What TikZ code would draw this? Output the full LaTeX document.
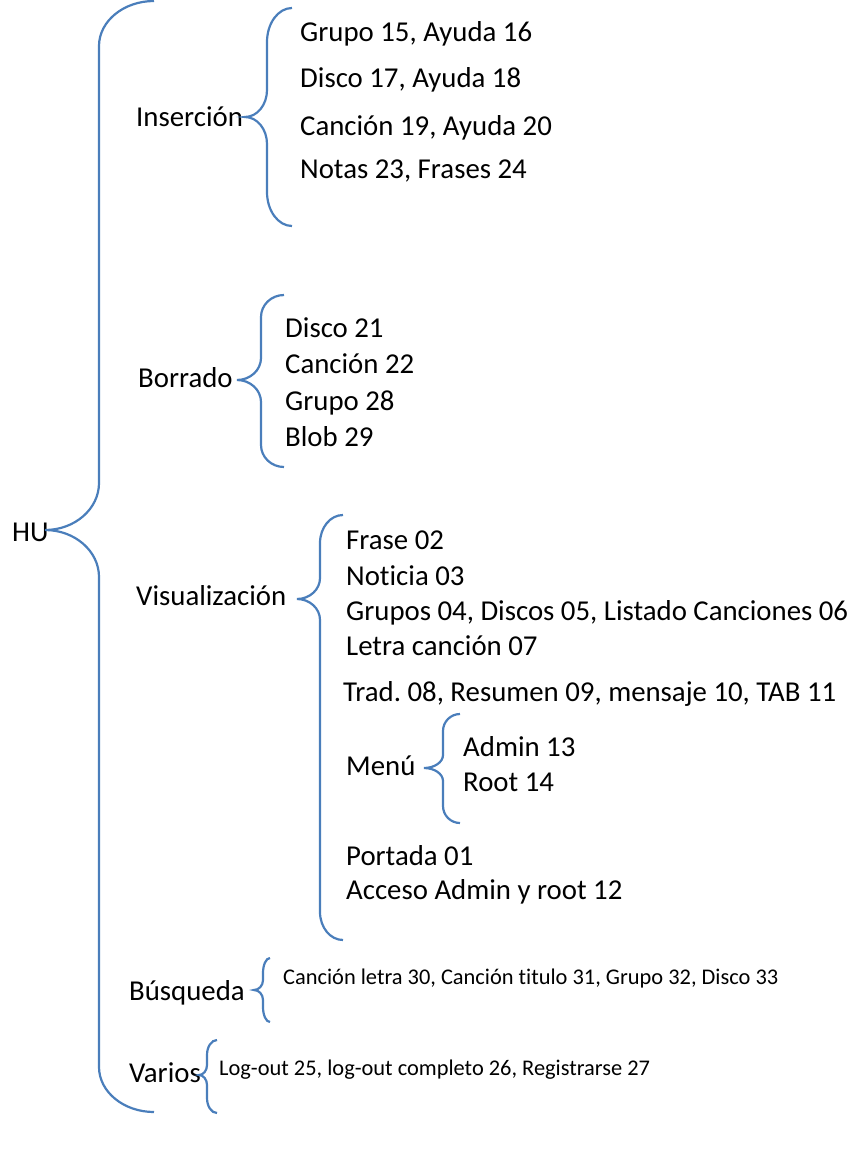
\documentclass[tikz,border=0pt]{standalone}
\usepackage{fontspec}
\setmainfont[Ligatures=NoCommon]{Carlito}
\definecolor{bracecol}{HTML}{4A7EBB}
\frenchspacing
\tikzset{
  brace/.style={draw=bracecol, line width=2.2pt},
  lbl/.style={anchor=base west, inner sep=0pt, font=\fontsize{28.8}{34}\selectfont},
  small/.style={anchor=base west, inner sep=0pt, font=\fontsize{22.4}{27}\selectfont},
}
% #1 tipx, #2 tipy, #3 line x, #4 end x, #5 top y, #6 bottom y, #7 end radius, #8 middle radius
\newcommand\mybrc[8]{%
  \draw[brace] (#4,#5) .. controls ({#3+0.448*(#4-#3)},#5) and (#3,{#5+0.448*#7}) .. (#3,{#5+#7})
    -- (#3,{#2-#8}) .. controls (#3,{#2-0.448*#8}) and ({#1+0.552*(#3-#1)},#2) .. (#1,#2)
    .. controls ({#1+0.552*(#3-#1)},#2) and (#3,{#2+0.448*#8}) .. (#3,{#2+#8})
    -- (#3,{#6-#7}) .. controls (#3,{#6-0.448*#7}) and ({#3+0.448*(#4-#3)},#6) .. (#4,#6);}
\begin{document}
\begin{tikzpicture}[x=1pt,y=-1pt]
\useasboundingbox (0,0) rectangle (865,1156);
% root
\node[lbl] (hu) at (12,541) {HU};
\mybrc{45}{530}{99}{154}{1}{1112}{45}{47}
% Insercion
\node[lbl] (ins) at (136,126) {Inserción};
\mybrc{245}{117}{267}{292}{8}{226}{34}{27}
\node[lbl] (i1) at (300,42) {Grupo 15, Ayuda 16};
\node[lbl] (i2) at (300,87) {Disco 17, Ayuda 18};
\node[lbl] (i3) at (300,135) {Canción 19, Ayuda 20};
\node[lbl] (i4) at (300,178) {Notas 23, Frases 24};
% Borrado
\node[lbl] (bor) at (138,387) {Borrado};
\mybrc{237}{380}{261}{284}{295}{467}{22}{22}
\node[lbl] (b1) at (285,337) {Disco 21};
\node[lbl] (b2) at (285,373) {Canción 22};
\node[lbl] (b3) at (285,410) {Grupo 28};
\node[lbl] (b4) at (285,446) {Blob 29};
% Visualizacion
\node[lbl] (vis) at (136,605) {Visualización};
\mybrc{297}{599}{320}{343}{515}{940}{28}{21}
\node[lbl] (v1) at (346,549) {Frase 02};
\node[lbl] (v2) at (346,585) {Noticia 03};
\node[lbl] (v3) at (346,620) {Grupos 04, Discos 05, Listado Canciones 06};
\node[lbl] (v4) at (346,655) {Letra canción 07};
\node[lbl] (v5) at (343,701) {Trad. 08, Resumen 09, mensaje 10, TAB 11};
\node[lbl] (menu) at (346,775) {Menú};
\mybrc{424}{768}{443}{460}{714}{823}{17}{13}
\node[lbl] (m1) at (463,756) {Admin 13};
\node[lbl] (m2) at (463,791) {Root 14};
\node[lbl] (v6) at (346,865) {Portada 01};
\node[lbl] (v7) at (346,899) {Acceso Admin y root 12};
% Busqueda
\node[lbl] (bus) at (129,1000) {Búsqueda};
\mybrc{254}{990}{263}{270}{958}{1022}{15}{10}
\node[small] (s1) at (283,984) {Canción letra 30, Canción titulo 31, Grupo 32, Disco 33};
% Varios
\node[lbl] (var) at (129,1082) {Varios};
\mybrc{199}{1075}{207}{217}{1040}{1113}{15}{10}
\node[small] (r1) at (219,1075) {Log-out 25, log-out completo 26, Registrarse 27};
\end{tikzpicture}
\end{document}
